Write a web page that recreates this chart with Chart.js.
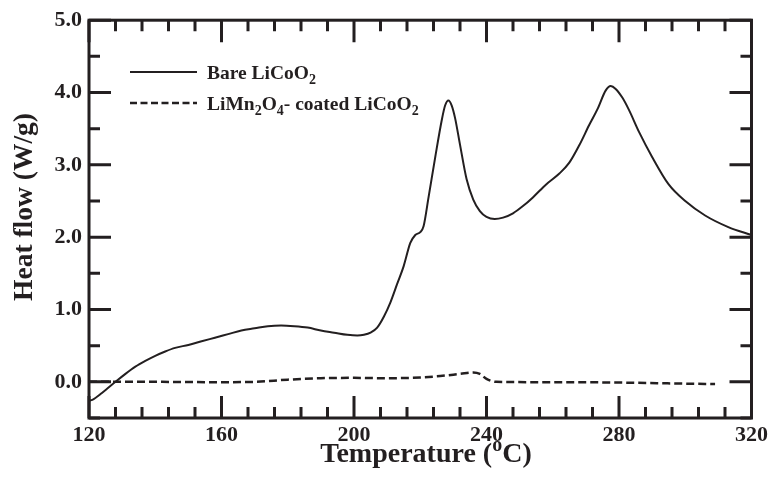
<!DOCTYPE html>
<html>
<head>
<meta charset="utf-8">
<script src="https://cdn.jsdelivr.net/npm/chart.js@4/dist/chart.umd.min.js"></script>
<style>
  html, body { margin: 0; padding: 0; background: #fff; }
  #wrap { width: 772px; height: 482px; position: relative; }
</style>
</head>
<body>
<div id="wrap"><canvas id="dsc"></canvas></div>
<script>
// Bare LiCoO2 DSC trace
const bareTemp = [120, 121, 124, 128, 131, 134, 137, 140, 143, 146, 150, 154, 158, 162, 166, 170, 174, 178, 182, 186, 190, 194, 198, 201, 203, 205, 207, 209, 211, 213, 215, 217, 218.5, 220, 221, 222.5, 224.5, 226.5, 227.5, 228.5, 229.5, 230.5, 232, 234, 236, 238, 240, 242.5, 245, 248, 251, 254, 258, 262, 265, 268, 271, 273.5, 276, 277.5, 279, 281, 283, 286, 290, 295, 300, 306, 313, 320];
const bareHeat = [-0.26, -0.25, -0.15, 0.0, 0.11, 0.21, 0.29, 0.36, 0.42, 0.47, 0.51, 0.56, 0.61, 0.66, 0.71, 0.74, 0.77, 0.78, 0.77, 0.75, 0.71, 0.68, 0.65, 0.64, 0.65, 0.68, 0.75, 0.9, 1.1, 1.35, 1.6, 1.92, 2.03, 2.07, 2.15, 2.55, 3.1, 3.62, 3.82, 3.89, 3.82, 3.65, 3.28, 2.8, 2.52, 2.36, 2.28, 2.25, 2.27, 2.33, 2.43, 2.55, 2.73, 2.88, 3.03, 3.27, 3.55, 3.77, 4.03, 4.09, 4.05, 3.93, 3.76, 3.46, 3.11, 2.73, 2.5, 2.3, 2.14, 2.03];

// LiMn2O4-coated LiCoO2 DSC trace
const coatTemp = [120, 140, 160, 170, 180, 190, 200, 210, 220, 226, 232, 236, 238, 240, 243, 260, 280, 300, 309];
const coatHeat = [0.0, 0.0, -0.005, 0.0, 0.03, 0.05, 0.055, 0.05, 0.06, 0.08, 0.11, 0.13, 0.11, 0.04, 0.0, -0.005, -0.01, -0.025, -0.03];

const xMajor = [120, 160, 200, 240, 280, 320];
const yMajor = [0, 1, 2, 3, 4, 5];

const serif = "'Liberation Serif', 'Times New Roman', serif";
const toPts = (xs, ys) => xs.map((x, i) => ({ x: x, y: ys[i] }));

// draw text with sub/superscript parts: [[text, 'n'|'sub'|'sup'], ...]
function richText(ctx, parts, x, y, size) {
  let cx = x;
  parts.forEach(([t, kind]) => {
    const s = kind === 'n' ? size : Math.round(size * 0.72);
    const dy = kind === 'sub' ? size * 0.28 : kind === 'sup' ? -size * 0.38 : 0;
    ctx.font = 'bold ' + s + 'px ' + serif;
    ctx.fillText(t, cx, y + dy);
    cx += ctx.measureText(t).width;
  });
  return cx - x;
}
function richWidth(ctx, parts, size) {
  let w = 0;
  parts.forEach(([t, kind]) => {
    const s = kind === 'n' ? size : Math.round(size * 0.72);
    ctx.font = 'bold ' + s + 'px ' + serif;
    w += ctx.measureText(t).width;
  });
  return w;
}

const framePlugin = {
  id: 'frame',
  afterDraw(chart) {
    const { ctx, chartArea: a, scales } = chart;
    const xs = scales.x, ys = scales.y;
    ctx.save();
    ctx.strokeStyle = '#231f20';
    ctx.lineWidth = 3;
    ctx.lineCap = 'butt';
    ctx.strokeRect(a.left, a.top, a.right - a.left, a.bottom - a.top);

    // x ticks (bottom and top, inward), minor every 8
    for (let v = 120; v <= 320; v += 8) {
      const px = xs.getPixelForValue(v);
      const len = xMajor.includes(v) ? 22 : 11;
      ctx.beginPath();
      ctx.moveTo(px, a.bottom); ctx.lineTo(px, a.bottom - len);
      ctx.moveTo(px, a.top); ctx.lineTo(px, a.top + len);
      ctx.stroke();
    }
    // y ticks (left and right, inward), minor every 0.5
    for (let v = -0.5; v <= 5.001; v += 0.5) {
      const py = ys.getPixelForValue(v);
      const len = yMajor.includes(Math.round(v * 10) / 10) ? 22 : 11;
      ctx.beginPath();
      ctx.moveTo(a.left, py); ctx.lineTo(a.left + len, py);
      ctx.moveTo(a.right, py); ctx.lineTo(a.right - len, py);
      ctx.stroke();
    }

    // axis titles
    ctx.fillStyle = '#231f20';
    ctx.textBaseline = 'alphabetic';
    const xt = [['Temperature (', 'n'], ['o', 'sup'], ['C)', 'n']];
    const xw = richWidth(ctx, xt, 28);
    richText(ctx, xt, 426 - xw / 2, 462, 28);

    ctx.save();
    ctx.translate(32, 207);
    ctx.rotate(-Math.PI / 2);
    ctx.font = 'bold 27.5px ' + serif;
    ctx.textAlign = 'center';
    ctx.fillText('Heat flow (W/g)', 0, 0);
    ctx.restore();

    // legend
    ctx.lineWidth = 2;
    ctx.beginPath();
    ctx.moveTo(130, 72); ctx.lineTo(197, 72);
    ctx.stroke();
    ctx.lineWidth = 2.5;
    ctx.setLineDash([7, 3.5]);
    ctx.beginPath();
    ctx.moveTo(130, 103); ctx.lineTo(197, 103);
    ctx.stroke();
    ctx.setLineDash([]);
    richText(ctx, [['Bare LiCoO', 'n'], ['2', 'sub']], 207, 79, 19.5);
    richText(ctx, [['LiMn', 'n'], ['2', 'sub'], ['O', 'n'], ['4', 'sub'], ['- coated LiCoO', 'n'], ['2', 'sub']], 207, 110, 19.5);
    ctx.restore();
  }
};

new Chart(document.getElementById('dsc'), {
  type: 'line',
  data: {
    datasets: [
      {
        label: 'Bare LiCoO2',
        data: toPts(bareTemp, bareHeat),
        borderColor: '#231f20',
        borderWidth: 2,
        pointRadius: 0,
        cubicInterpolationMode: 'monotone',
      },
      {
        label: 'LiMn2O4- coated LiCoO2',
        data: toPts(coatTemp, coatHeat),
        borderColor: '#231f20',
        borderWidth: 2.5,
        borderDash: [8, 4],
        pointRadius: 0,
        cubicInterpolationMode: 'monotone',
      },
    ],
  },
  options: {
    responsive: true,
    maintainAspectRatio: false,
    animation: false,
    layout: { padding: { top: 17, right: 18, left: 0, bottom: 0 } },
    plugins: { legend: { display: false }, tooltip: { enabled: false } },
    scales: {
      x: {
        type: 'linear',
        min: 120,
        max: 320,
        grid: { display: false, drawTicks: false },
        border: { display: false },
        ticks: {
          stepSize: 40,
          padding: 4,
          color: '#231f20',
          font: { family: serif, size: 22, weight: 'bold' },
          maxRotation: 0,
        },
        afterFit: (s) => { s.height = 64; },
      },
      y: {
        min: -0.5,
        max: 5,
        grid: { display: false, drawTicks: false },
        border: { display: false },
        ticks: {
          stepSize: 0.5,
          padding: 7,
          color: '#231f20',
          font: { family: serif, size: 22, weight: 'bold' },
          callback: (v) => (Number.isInteger(v) ? v.toFixed(1) : ''),
        },
        afterFit: (s) => { s.width = 89; },
      },
    },
  },
  plugins: [framePlugin],
});
</script>
</body>
</html>
